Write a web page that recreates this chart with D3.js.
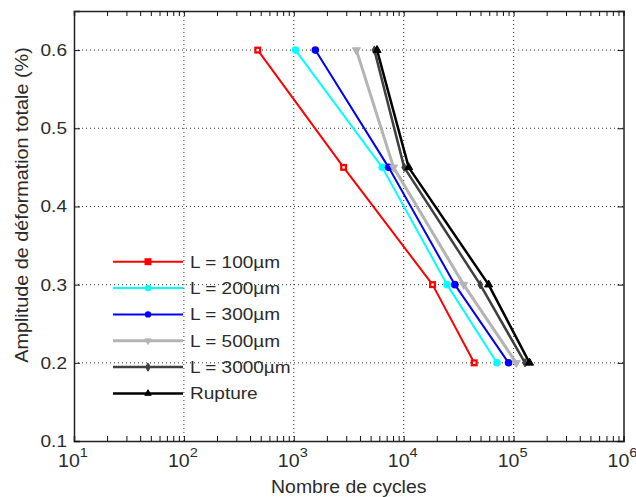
<!DOCTYPE html>
<html><head><meta charset="utf-8">
<script src="https://cdn.jsdelivr.net/npm/d3@7"></script>
<style>body{margin:0;background:#fff}svg{display:block}</style>
</head><body>
<script>
// ---- data ----
const amplitudes = [0.6, 0.45, 0.3, 0.2];
const seriesNames = ["L = 100µm", "L = 200µm", "L = 300µm", "L = 500µm", "L = 3000µm", "Rupture"];
const cyclesL100 = [470, 2840, 18300, 43800];
const cyclesL200 = [1035, 6380, 24800, 70500];
const cyclesL300 = [1570, 7290, 29200, 90000];
const cyclesL500 = [3710, 8090, 35100, 105700];
const cyclesL3000 = [5410, 10100, 49700, 127000];
const cyclesRupture = [5720, 11100, 59200, 139700];
const xTickExps = [1, 2, 3, 4, 5, 6];
const yTicks = [0.1, 0.2, 0.3, 0.4, 0.5, 0.6];

const W = 636, H = 497;
const m = {left: 74, right: 636 - 623.5, top: 11, bottom: 497 - 441};
const svg = d3.select("body").append("svg").attr("width", W).attr("height", H);
const x = d3.scaleLog().domain([10, 1e6]).range([m.left, W - m.right]);
const y = d3.scaleLinear().domain([0.1, 0.65]).range([H - m.bottom, m.top]);
const FONT = "'Liberation Sans', Arial, sans-serif";
const SX = 1.12;

const styles = [
  {color: "#ff0000", w: 2, marker: "square"},
  {color: "#00ffff", w: 2, marker: "circle"},
  {color: "#0000ff", w: 2, marker: "circle"},
  {color: "#b4b4b4", w: 3, marker: "tri-down"},
  {color: "#404040", w: 2.5, marker: "diamond"},
  {color: "#000000", w: 2.5, marker: "tri-up"}
];
const allCycles = [cyclesL100, cyclesL200, cyclesL300, cyclesL500, cyclesL3000, cyclesRupture];
const series = seriesNames.map((n, i) => ({name: n, values: allCycles[i].map((c, j) => ({c, a: amplitudes[j]})), ...styles[i]}));

// grid
const grid = svg.append("g").attr("stroke", "#333").attr("stroke-width", 1).attr("stroke-dasharray", "1,3");
xTickExps.slice(1, -1).forEach(e => {
  grid.append("line").attr("x1", x(10 ** e)).attr("x2", x(10 ** e)).attr("y1", y.range()[0]).attr("y2", y.range()[1]);
});
yTicks.slice(1).forEach(v => {
  grid.append("line").attr("x1", x.range()[0]).attr("x2", x.range()[1]).attr("y1", y(v)).attr("y2", y(v));
});

// axes with inward ticks
const minor = [];
for (let e = 1; e < 6; e++) for (let k = 2; k <= 9; k++) minor.push(k * 10 ** e);
const majors = xTickExps.map(e => 10 ** e);
const axB = d3.axisBottom(x).tickValues(majors.concat(minor)).tickSize(-5).tickFormat("");
const axT = d3.axisTop(x).tickValues(majors.concat(minor)).tickSize(-5).tickFormat("");
const axL = d3.axisLeft(y).tickValues(yTicks).tickSize(-6).tickFormat("");
const axR = d3.axisRight(y).tickValues(yTicks).tickSize(-6).tickFormat("");
function styleAx(g) { g.selectAll("path").attr("stroke", "#222").attr("stroke-width", 1.5); g.selectAll("line").attr("stroke", "#111").attr("stroke-width", 1); }
svg.append("g").attr("transform", `translate(0,${y.range()[0]})`).call(axB).call(styleAx);
svg.append("g").attr("transform", `translate(0,${y.range()[1]})`).call(axT).call(styleAx);
svg.append("g").attr("transform", `translate(${x.range()[0]},0)`).call(axL).call(styleAx);
svg.append("g").attr("transform", `translate(${x.range()[1]},0)`).call(axR).call(styleAx);

// text helper (horizontally widened glyphs)
function label(px, py, rot, sx, size, anchor, txt) {
  const g = svg.append("g").attr("transform", `translate(${px},${py}) rotate(${rot}) scale(${sx},1)`);
  return g.append("text").attr("font-family", FONT).attr("font-size", size).attr("fill", "#2b2b2b")
    .attr("text-anchor", anchor).text(txt);
}
// y tick labels
yTicks.forEach(v => label(x.range()[0] - 7, y(v) + 6, 0, SX, 17, "end", d3.format(".1f")(v)));
// x tick labels 10^e
xTickExps.forEach(e => {
  const t = label(x(10 ** e) - 1, y.range()[0] + 25.7, 0, SX, 17.5, "middle", "10");
  t.append("tspan").attr("dy", -10).attr("font-size", 13).text(e);
});
// axis titles
label((x.range()[0] + x.range()[1]) / 2, 493, 0, 1.05, 18.5, "middle", "Nombre de cycles");
label(28, 205, -90, 1.07, 18.5, "middle", "Amplitude de déformation totale (%)");

// markers
function drawMarker(g, s, cx, cy, legend) {
  if (s.marker === "square") {
    g.append("rect").attr("x", cx - 3.5).attr("y", cy - 3.5).attr("width", 7).attr("height", 7).attr("fill", s.color);
    if (!legend) g.append("rect").attr("x", cx - 1.2).attr("y", cy - 1.2).attr("width", 2.4).attr("height", 2.4).attr("fill", "#fff");
  } else if (s.marker === "circle") {
    g.append("circle").attr("cx", cx).attr("cy", cy).attr("r", legend ? 3.2 : 3.8).attr("fill", s.color);
  } else {
    const type = s.marker === "diamond" ? d3.symbolDiamond : d3.symbolTriangle;
    const size = s.marker === "diamond" ? 20 : (legend ? 18 : 28);
    const rot = s.marker === "tri-down" ? 180 : 0;
    g.append("path").attr("d", d3.symbol().type(type).size(size)()).attr("fill", s.color)
      .attr("stroke", s.color).attr("stroke-width", 1)
      .attr("transform", `translate(${cx},${cy}) rotate(${rot})`);
  }
}

// lines
const line = d3.line().x(d => x(d.c)).y(d => y(d.a));
series.forEach(s => {
  const g = svg.append("g");
  g.append("path").datum(s.values).attr("d", line).attr("fill", "none").attr("stroke", s.color)
    .attr("stroke-width", s.w).attr("stroke-linejoin", "round");
  s.values.forEach(d => drawMarker(g, s, x(d.c), y(d.a), false));
});

// legend
const lgX0 = 113, lgX1 = 183, lgY0 = 261.7, lgDy = 26.35;
series.forEach((s, i) => {
  const g = svg.append("g");
  const yy = lgY0 + i * lgDy;
  g.append("line").attr("x1", lgX0).attr("x2", lgX1).attr("y1", yy).attr("y2", yy)
    .attr("stroke", s.color).attr("stroke-width", s.w);
  drawMarker(g, s, (lgX0 + lgX1) / 2, yy, true);
  label(190, yy + 6, 0, SX, 17, "start", s.name);
});
</script>
</body></html>
